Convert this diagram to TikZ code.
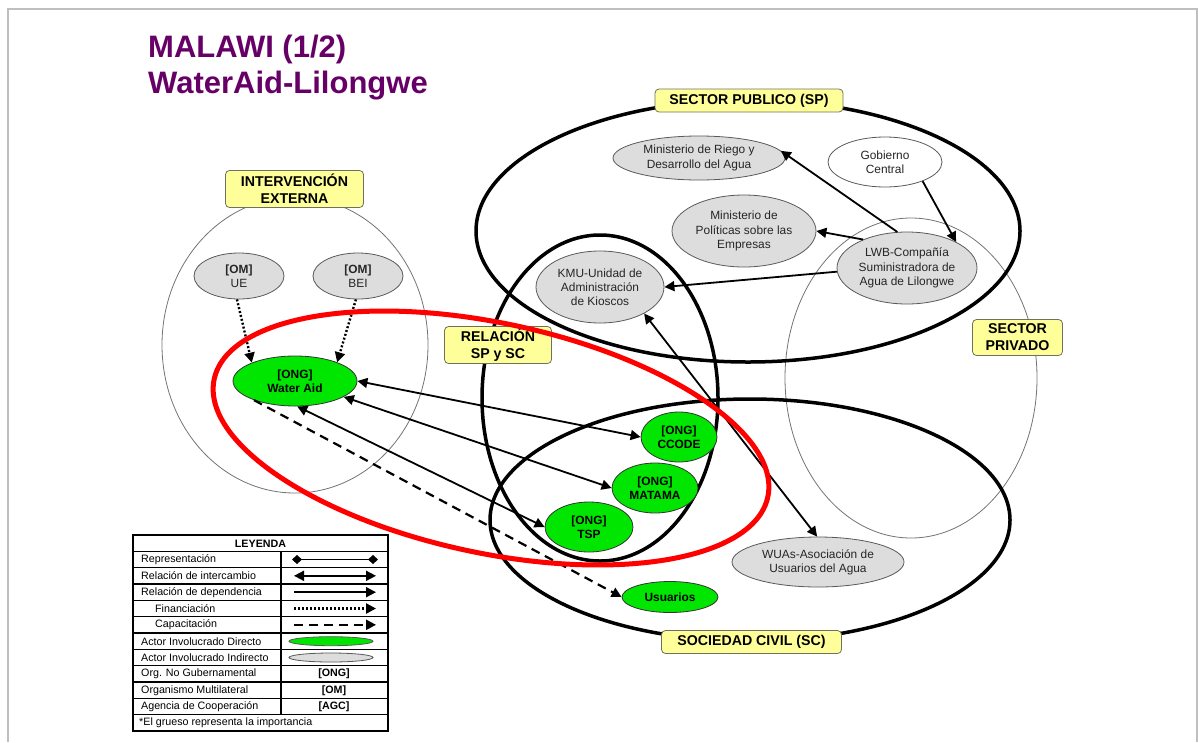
\documentclass[tikz,border=0pt]{standalone}
\usepackage{fontspec}
\setmainfont{Liberation Sans}
\usetikzlibrary{arrows.meta,shapes.geometric}
\definecolor{ttl}{HTML}{660066}
\definecolor{lblfill}{HTML}{FFFF99}
\definecolor{lbldraw}{HTML}{707060}
\definecolor{grayfill}{HTML}{DDDDDD}
\definecolor{grn}{HTML}{00E600}
\definecolor{framegray}{HTML}{BFBFBF}
\definecolor{txt}{HTML}{262626}
\definecolor{redring}{HTML}{FF0000}
\begin{document}
\begin{tikzpicture}[x=1pt,y=-1pt,
  actorI/.style={ellipse, draw=black!65, line width=0.8pt, fill=grayfill, inner sep=0pt, align=center, text=txt, font=\fontsize{11.9}{14.2}\selectfont},
  actorW/.style={actorI, fill=white},
  actorD/.style={ellipse, draw=black!80, line width=0.8pt, fill=grn, inner sep=0pt, align=center, font=\bfseries\fontsize{11.9}{14.5}\selectfont},
  zonelabel/.style={draw=lbldraw, line width=0.8pt, fill=lblfill, rounded corners=4pt, inner sep=0pt, align=center, font=\bfseries\fontsize{14.2}{17}\selectfont},
  bigzone/.style={draw=black, line width=3.5pt},
  thinzone/.style={draw=black!55, line width=0.8pt},
  depend/.style={line width=1.8pt, -{Triangle[length=10pt,width=10pt]}},
  exch/.style={line width=1.8pt, {Triangle[length=10pt,width=10pt]}-{Triangle[length=10pt,width=10pt]}},
  fundline/.style={line width=2.4pt, dash pattern=on 2pt off 2pt, -{Triangle[length=10pt,width=10pt]}},
  trainline/.style={line width=2.2pt, dash pattern=on 9pt off 6pt, -{Triangle[length=10pt,width=10pt]}},
  reprline/.style={line width=1.5pt, {Diamond[length=10pt,width=9pt]}-{Diamond[length=10pt,width=9pt]}},
  legtext/.style={anchor=west, inner sep=0pt, font=\fontsize{10.7}{12}\selectfont},
  legsym/.style={inner sep=0pt, font=\bfseries\fontsize{10.7}{12}\selectfont},
  titletext/.style={anchor=base west, inner sep=0pt, text=ttl, font=\bfseries\fontsize{31}{38}\selectfont}
]
\useasboundingbox (0,0) rectangle (1198,742);
% frame
\draw[framegray, line width=2pt] (7.5,742) -- (7.5,9) -- (1196.5,9) -- (1196.5,742);

% title
\node[titletext] (t1) at (148,57) {MALAWI (1/2)};
\node[titletext] (t2) at (148,93) {WaterAid-Lilongwe};

% zones
\draw[thinzone] (295,345) ellipse [x radius=133pt, y radius=148pt];
\draw[thinzone] (911,378) ellipse [x radius=126pt, y radius=160pt];
\draw[bigzone] (748,231) ellipse [x radius=272pt, y radius=131pt];
\draw[bigzone] (600,398) ellipse [x radius=118pt, y radius=163pt];
\draw[bigzone] (750,520) ellipse [x radius=260pt, y radius=121pt];

% actors
\node[actorI, minimum width=172pt, minimum height=44pt] (riego) at (699,158) {Ministerio de Riego y\\Desarrollo del Agua};
\node[actorW, minimum width=114pt, minimum height=50pt] (gob) at (885,162) {Gobierno\\Central};
\node[actorI, minimum width=144pt, minimum height=72pt] (pol) at (744,231) {Ministerio de\\Políticas sobre las\\Empresas};
\node[actorI, minimum width=140pt, minimum height=72pt] (lwb) at (907,268) {LWB-Compañía\\Suministradora de\\Agua de Lilongwe};
\node[actorI, minimum width=128pt, minimum height=72pt] (kmu) at (600,287) {KMU-Unidad de\\Administración\\de Kioscos};
\node[actorI, minimum width=90pt, minimum height=46pt] (ue) at (239,276) {\textbf{[OM]}\\UE};
\node[actorI, minimum width=90pt, minimum height=46pt] (bei) at (358,276) {\textbf{[OM]}\\BEI};
\node[actorD, minimum width=124pt, minimum height=50pt] (wa) at (295,381) {[ONG]\\Water Aid};
\node[actorD, minimum width=76pt, minimum height=50pt] (ccode) at (679,437) {[ONG]\\CCODE};
\node[actorD, minimum width=86pt, minimum height=50pt] (matama) at (655,488) {[ONG]\\MATAMA};
\node[actorD, minimum width=88pt, minimum height=50pt] (tsp) at (589,527) {[ONG]\\TSP};
\node[actorI, minimum width=172pt, minimum height=50pt] (wuas) at (818,562) {WUAs-Asociación de\\Usuarios del Agua};
\node[actorD, minimum width=96pt, minimum height=31pt] (usu) at (670,597) {Usuarios};

% connectors
\draw[fundline] (ue.265) -- (wa.157);
\draw[fundline] (bei.265) -- (wa.24);
\draw[exch] (wa.east) -- (ccode.west);
\draw[exch] (wa.-18) -- (matama.west);
\draw[exch] (wa.-85) -- (tsp.west);
\draw[trainline] (wa.205) -- (usu.west);
\draw[depend] (gob.-27) -- (lwb.28);
\draw[depend] (lwb.105) -- (riego.5);
\draw[depend] (lwb.147) -- (pol.east);
\draw[depend] (lwb.183) -- (kmu.east);
\draw[exch] (kmu.-31) -- (wuas.92);

% zone labels
\node[zonelabel, minimum width=188pt, minimum height=23pt] (lsp) at (749,100.5) {SECTOR PUBLICO (SP)};
\node[zonelabel, minimum width=138pt, minimum height=37pt] (lint) at (294.5,189) {INTERVENCIÓN\\EXTERNA};
\node[zonelabel, minimum width=107pt, minimum height=37pt] (lrel) at (498,345) {RELACIÓN\\SP y SC};
\node[zonelabel, minimum width=90pt, minimum height=36pt] (lpriv) at (1017.5,337.5) {SECTOR\\PRIVADO};
\node[zonelabel, minimum width=180pt, minimum height=23pt] (lsc) at (751.5,642) {SOCIEDAD CIVIL (SC)};

% red ring
\draw[redring, line width=5pt, rotate around={-12:(491,438)}] (491,438) ellipse [x radius=283pt, y radius=115pt];

% legend
\fill[white] (133,535) rectangle (388,731);
\foreach \i in {1,...,11} {
  \draw[line width=1.2pt] (133,{535+16.333*\i}) -- (388,{535+16.333*\i});
}
\draw[line width=1.2pt] (281,551.33) -- (281,714.67);
\draw[line width=1.8pt] (133,535) rectangle (388,731);
\node[legsym] (lg0) at (260.5,543.4) {LEYENDA};
\node[legtext] (lg1) at (141,559.7) {Representación};
\node[legtext] (lg2) at (141,576) {Relación de intercambio};
\node[legtext] (lg3) at (141,592.4) {Relación de dependencia};
\node[legtext] (lg4) at (155,608.7) {Financiación};
\node[legtext] (lg5) at (155,625) {Capacitación};
\node[legtext] (lg6) at (141,641.4) {Actor Involucrado Directo};
\node[legtext] (lg7) at (141,657.7) {Actor Involucrado Indirecto};
\node[legtext] (lg8) at (141,674) {Org. No Gubernamental};
\node[legtext] (lg9) at (141,690.4) {Organismo Multilateral};
\node[legtext] (lg10) at (141,706.7) {Agencia de Cooperación};
\node[legtext] (lg11) at (139,723) {*El grueso representa la importancia};
\coordinate (ra) at (292,559.5); \coordinate (rb) at (378,559.5);
\coordinate (xa) at (294,575.8); \coordinate (xb) at (376,575.8);
\coordinate (da) at (294,592.2); \coordinate (db) at (376,592.2);
\coordinate (fa) at (294,608.5); \coordinate (fb) at (376,608.5);
\coordinate (ca) at (294,624.8); \coordinate (cb) at (376,624.8);
\draw[reprline] (ra) -- (rb);
\draw[exch] (xa) -- (xb);
\draw[depend] (da) -- (db);
\draw[fundline] (fa) -- (fb);
\draw[trainline] (ca) -- (cb);
\node[ellipse, draw=black!65, line width=0.8pt, fill=grn, minimum width=84pt, minimum height=9pt, inner sep=0pt] (lgd) at (331,641.2) {};
\node[ellipse, draw=black!65, line width=0.8pt, fill=grayfill, minimum width=84pt, minimum height=9pt, inner sep=0pt] (lgi) at (331,657.5) {};
\node[legsym] (lgo) at (334,674) {[ONG]};
\node[legsym] (lgm) at (334,690.4) {[OM]};
\node[legsym] (lga) at (334,706.7) {[AGC]};
\end{tikzpicture}
\end{document}
